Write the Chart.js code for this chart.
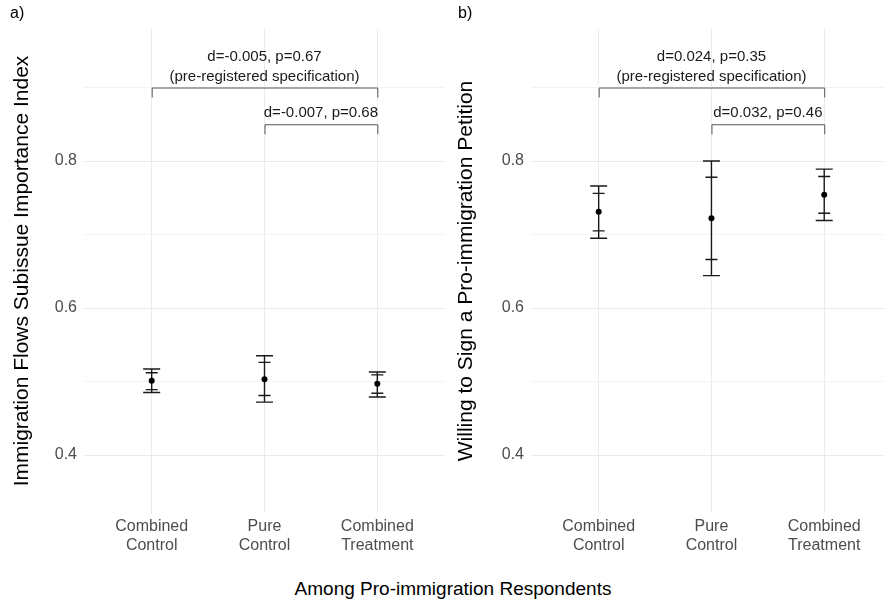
<!DOCTYPE html>
<html>
<head>
<meta charset="utf-8">
<script src="https://cdn.jsdelivr.net/npm/chart.js@4"></script>
<style>
  html,body{margin:0;padding:0;background:#fff;}
  body{width:887px;height:605px;position:relative;overflow:hidden;font-family:"Liberation Sans",Arial,sans-serif;}
  #wa{position:absolute;left:0;top:0;width:448px;height:570px;}
  #wb{position:absolute;left:447px;top:0;width:440px;height:570px;}
  .tag{position:absolute;top:4px;font-size:16px;color:#000;}
  #xt{position:absolute;left:0;width:906px;top:578px;text-align:center;font-size:19px;color:#000;}
</style>
</head>
<body>
<div id="wa"><canvas id="ca" width="448" height="570"></canvas></div>
<div id="wb"><canvas id="cb" width="440" height="570"></canvas></div>
<div class="tag" style="left:10px;">a)</div>
<div class="tag" style="left:458px;">b)</div>
<div id="xt">Among Pro-immigration Respondents</div>
<script>
// ---- data ----
const categories = [['Combined','Control'],['Pure','Control'],['Combined','Treatment']];
const positions = [1, 2, 3];
const yTickValues = [0.4, 0.5, 0.6, 0.7, 0.8, 0.9];
const yLabelled = [0.4, 0.6, 0.8];

const aTitle = 'Immigration Flows Subissue Importance Index';
const aMean    = [0.501, 0.503, 0.497];
const aOuterLo = [0.485, 0.472, 0.479];
const aOuterHi = [0.517, 0.535, 0.513];
const aInnerLo = [0.489, 0.481, 0.484];
const aInnerHi = [0.512, 0.526, 0.509];
const aBracketMain = ['d=-0.005, p=0.67', '(pre-registered specification)'];
const aBracketSub  = ['d=-0.007, p=0.68'];

const bTitle = 'Willing to Sign a Pro-immigration Petition';
const bMean    = [0.731, 0.722, 0.754];
const bOuterLo = [0.695, 0.644, 0.719];
const bOuterHi = [0.766, 0.800, 0.789];
const bInnerLo = [0.705, 0.666, 0.729];
const bInnerHi = [0.756, 0.778, 0.779];
const bBracketMain = ['d=0.024, p=0.35', '(pre-registered specification)'];
const bBracketSub  = ['d=0.032, p=0.46'];

// bracket geometry in data units
const bracketMainY = 0.9, bracketMainFrom = 1, bracketMainTo = 3;
const bracketSubY = 0.85, bracketSubFrom = 2, bracketSubTo = 3;

const errPlugin = {
  id: 'errbars',
  beforeDatasetsDraw(chart, args, opts) {
    const x = chart.scales.x, y = chart.scales.y, ctx = chart.ctx;
    ctx.save();
    ctx.strokeStyle = '#1a1a1a';
    ctx.lineWidth = 1.4;
    positions.forEach((p, i) => {
      const px = x.getPixelForValue(p);
      const hi = y.getPixelForValue(opts.oHi[i]), lo = y.getPixelForValue(opts.oLo[i]);
      const ihi = y.getPixelForValue(opts.iHi[i]), ilo = y.getPixelForValue(opts.iLo[i]);
      ctx.beginPath();
      ctx.moveTo(px, hi); ctx.lineTo(px, lo);
      ctx.moveTo(px - 8.5, hi); ctx.lineTo(px + 8.5, hi);
      ctx.moveTo(px - 8.5, lo); ctx.lineTo(px + 8.5, lo);
      ctx.moveTo(px - 6, ihi); ctx.lineTo(px + 6, ihi);
      ctx.moveTo(px - 6, ilo); ctx.lineTo(px + 6, ilo);
      ctx.stroke();
    });
    ctx.restore();
  },
  afterDatasetsDraw(chart, args, opts) {
    const x = chart.scales.x, y = chart.scales.y, ctx = chart.ctx;
    ctx.save();
    const draw = (from, to, yv, labels) => {
      const x1 = x.getPixelForValue(from), x2 = x.getPixelForValue(to);
      const py = y.getPixelForValue(yv);
      ctx.strokeStyle = '#555';
      ctx.lineWidth = 1;
      ctx.beginPath();
      ctx.moveTo(x1 + 0.5, py + 10); ctx.lineTo(x1 + 0.5, py + 0.5);
      ctx.lineTo(x2 + 0.5, py + 0.5); ctx.lineTo(x2 + 0.5, py + 10);
      ctx.stroke();
      ctx.fillStyle = '#1a1a1a';
      ctx.font = '15px "Liberation Sans", Arial, sans-serif';
      ctx.textAlign = 'center';
      ctx.textBaseline = 'middle';
      const cx = (x1 + x2) / 2;
      for (let k = 0; k < labels.length; k++) {
        const off = (labels.length - 1 - k) * 20;
        ctx.fillText(labels[k], cx, py - 11 - off);
      }
    };
    draw(bracketMainFrom, bracketMainTo, bracketMainY, opts.main);
    draw(bracketSubFrom, bracketSubTo, bracketSubY, opts.sub);
    ctx.restore();
  }
};

function makeChart(id, title, mean, oLo, oHi, iLo, iHi, main, sub, xMax, titlePad) {
  const pts = positions.map((p, i) => ({x: p, y: mean[i]}));
  return new Chart(document.getElementById(id), {
    type: 'scatter',
    data: { datasets: [{ data: pts, pointRadius: 3, pointHoverRadius: 3,
      backgroundColor: '#000', borderColor: '#000', borderWidth: 0 }] },
    plugins: [errPlugin],
    options: {
      responsive: false,
      animation: false,
      layout: { padding: { top: 29, bottom: 0, left: 0, right: 0 } },
      plugins: {
        legend: { display: false },
        tooltip: { enabled: false },
        errbars: { oLo, oHi, iLo, iHi, main, sub }
      },
      scales: {
        x: {
          type: 'linear', min: 0.4, max: xMax,
          afterBuildTicks: s => { s.ticks = positions.map(v => ({value: v})); },
          afterFit: s => { s.height = 57; },
          grid: { color: '#ebebeb', lineWidth: 1, drawTicks: false },
          border: { display: false },
          ticks: { autoSkip: false, maxRotation: 0, padding: 4, color: '#4d4d4d',
            font: { size: 16, family: '"Liberation Sans", Arial, sans-serif' },
            callback: v => { const i = positions.indexOf(v); return i >= 0 ? categories[i] : ''; } }
        },
        y: {
          type: 'linear', min: 0.3211, max: 0.9796,
          afterBuildTicks: s => { s.ticks = yTickValues.map(v => ({value: v})); },
          afterFit: s => { s.width = 84; },
          grid: { drawTicks: false, lineWidth: 1,
            color: c => (c.tick && yLabelled.some(v => Math.abs(v - c.tick.value) < 1e-6)) ? '#ebebeb' : '#f3f3f3' },
          border: { display: false },
          ticks: { autoSkip: false, padding: 7, color: '#4d4d4d',
            font: { size: 16, family: '"Liberation Sans", Arial, sans-serif' },
            callback: v => yLabelled.some(t => Math.abs(t - v) < 1e-6) ? v.toFixed(1) : '' },
          title: { display: true, text: title, color: '#000',
            padding: { top: titlePad, bottom: 0 },
            font: { size: 21, family: '"Liberation Sans", Arial, sans-serif' } }
        }
      }
    }
  });
}

makeChart('ca', aTitle, aMean, aOuterLo, aOuterHi, aInnerLo, aInnerHi, aBracketMain, aBracketSub, 3.6, 10);
makeChart('cb', bTitle, bMean, bOuterLo, bOuterHi, bInnerLo, bInnerHi, bBracketMain, bBracketSub, 3.53, 7);
</script>
</body>
</html>
